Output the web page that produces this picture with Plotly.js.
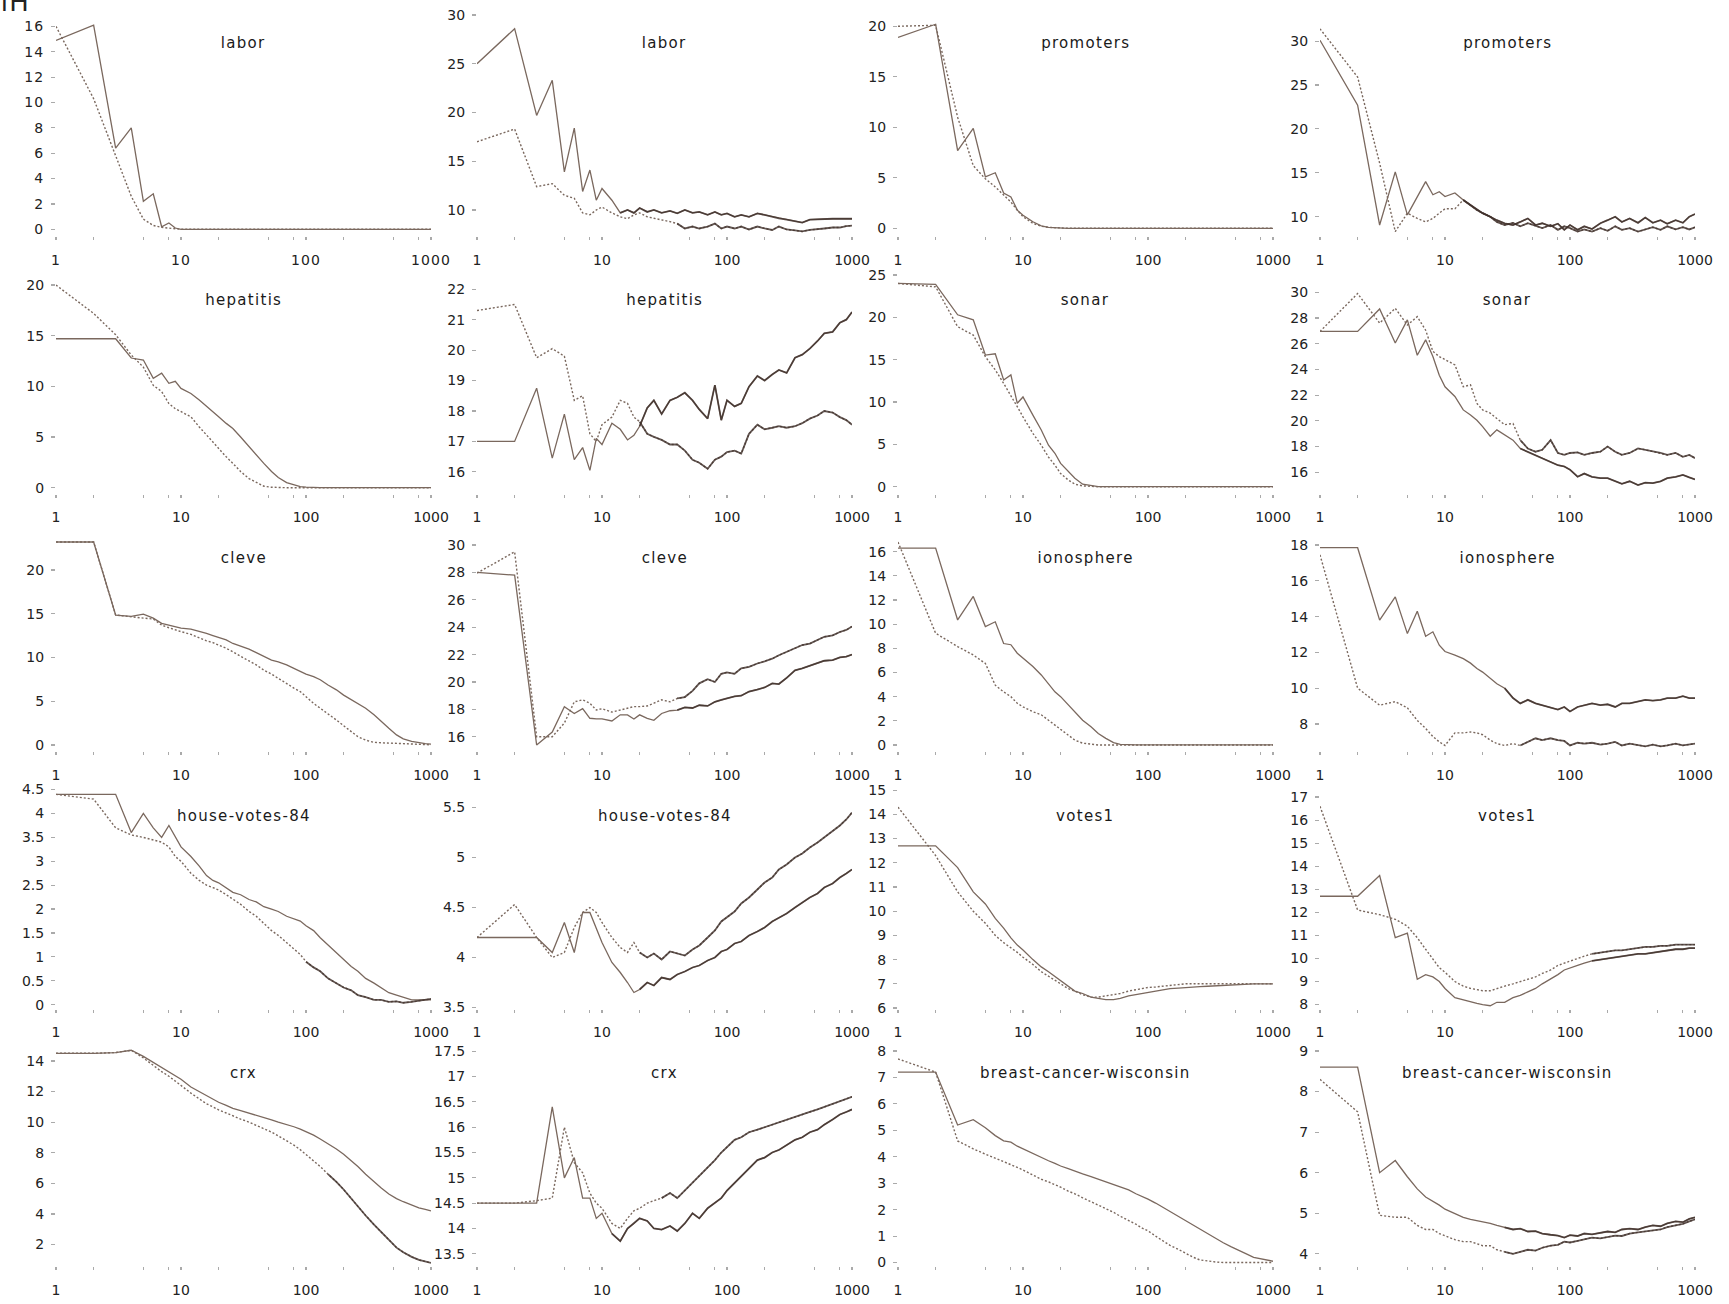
<!DOCTYPE html>
<html><head><meta charset="utf-8">
<script src="https://cdn.plot.ly/plotly-3.0.1.min.js"></script>
<style>
html,body{margin:0;padding:0;background:#fff;overflow:hidden}
#chart .xtick text, #chart .ytick text{letter-spacing:1.1px}
#chart .annotation-text{letter-spacing:1.3px}
</style>
</head><body><div id="chart" style="width:1729px;height:1304px"></div>
<script>
// ---------------- DATA ----------------
const X = [1,2,3,4,5,6,7,8,9,10, 12,14,16,18,20,23,26,30,35,40, 46,53,60,70,80,90,100,115,130,150, 175,200,230,260,300,350,400,460,530,600, 700,800,900,1000];

const titles = ['labor','labor','promoters','promoters','hepatitis','hepatitis','sonar','sonar','cleve','cleve','ionosphere','ionosphere','house-votes-84','house-votes-84','votes1','votes1','crx','crx','breast-cancer-wisconsin','breast-cancer-wisconsin'];

const xTickVals = [1,2,5,8,10,20,50,80,100,200,500,800,1000];
const xTickText = ['1','','','','10','','','','100','','','','1000'];

const yTicks = [
  [0,2,4,6,8,10,12,14,16],[10,15,20,25,30],[0,5,10,15,20],[10,15,20,25,30],
  [0,5,10,15,20],[16,17,18,19,20,21,22],[0,5,10,15,20,25],[16,18,20,22,24,26,28,30],
  [0,5,10,15,20],[16,18,20,22,24,26,28,30],[0,2,4,6,8,10,12,14,16],[8,10,12,14,16,18],
  [0,0.5,1,1.5,2,2.5,3,3.5,4,4.5],[3.5,4,4.5,5,5.5],[6,7,8,9,10,11,12,13,14,15],[8,9,10,11,12,13,14,15,16,17],
  [2,4,6,8,10,12,14],[13.5,14,14.5,15,15.5,16,16.5,17,17.5],[0,1,2,3,4,5,6,7,8],[4,5,6,7,8,9]
];

const laborLSolid = [14.9,16.1,6.4,8.0,2.2,2.8,0.2,0.5,0.1,0, 0,0,0,0,0,0,0,0,0,0, 0,0,0,0,0,0,0,0,0,0, 0,0,0,0,0,0,0,0,0,0, 0,0,0,0];
const laborLDotted = [16.0,10.3,5.8,2.6,0.8,0.3,0.15,0.1,0.05,0, 0,0,0,0,0,0,0,0,0,0, 0,0,0,0,0,0,0,0,0,0, 0,0,0,0,0,0,0,0,0,0, 0,0,0,0];
const laborRSolid = [25.0,28.6,19.7,23.3,13.9,18.4,11.9,14.1,11.0,12.2, 11.0,9.7,10.0,9.7,10.2,9.8,10.0,9.7,9.9,9.65, 10.0,9.7,9.8,9.5,9.8,9.5,9.65,9.3,9.5,9.3, 9.65,9.5,9.3,9.15,9.0,8.8,8.7,9.0,9.05,9.1, 9.1,9.1,9.1,9.1];
const laborRDotted = [17.0,18.3,12.4,12.7,11.5,11.2,9.7,9.5,10.0,10.3, 9.7,9.3,9.1,9.5,9.7,9.3,9.15,9.0,8.8,8.6, 8.1,8.3,8.1,8.3,8.6,8.1,8.3,8.1,8.3,8.0, 8.3,8.1,7.95,8.3,8.0,7.9,7.8,7.95,8.0,8.1, 8.2,8.2,8.35,8.4];
const promLSolid = [18.9,20.2,7.7,9.9,5.1,5.5,3.5,3.1,1.8,1.3, 0.65,0.25,0.1,0.05,0,0,0,0,0,0, 0,0,0,0,0,0,0,0,0,0, 0,0,0,0,0,0,0,0,0,0, 0,0,0,0];
const promLDotted = [20.0,20.1,11.0,6.2,4.9,4.1,3.3,2.6,1.8,1.15, 0.5,0.2,0.1,0.05,0,0,0,0,0,0, 0,0,0,0,0,0,0,0,0,0, 0,0,0,0,0,0,0,0,0,0, 0,0,0,0];
const promRSolid = [30.1,22.7,9.05,15.1,10.2,12.3,14.0,12.5,12.85,12.3, 12.7,11.9,11.3,10.8,10.4,10.0,9.6,9.25,9.05,9.4, 9.8,9.05,9.25,8.9,9.2,8.5,9.05,8.5,8.9,8.6, 9.25,9.6,10.0,9.4,9.8,9.3,9.9,9.3,9.6,9.2, 9.6,9.3,10.0,10.3];
const promRDotted = [31.4,25.9,16.1,8.3,10.4,9.8,9.4,9.8,10.4,10.9, 10.9,11.9,11.3,10.75,10.4,10.0,9.4,9.05,9.3,8.9, 9.25,8.95,8.7,9.05,8.5,8.9,8.7,8.3,8.55,8.3, 8.7,8.4,8.9,8.5,8.7,8.3,8.55,8.8,8.5,8.9, 8.55,8.8,8.55,8.8];
const hepLSolid = [14.7,14.7,14.7,12.8,12.6,10.8,11.3,10.3,10.5,9.8, 9.3,8.65,8.0,7.5,7.0,6.35,5.85,5.0,4.05,3.2, 2.4,1.6,1.0,0.5,0.25,0.1,0.05,0,0,0, 0,0,0,0,0,0,0,0,0,0, 0,0,0,0];
const hepLDotted = [20.0,17.2,15.1,13.1,11.9,10.1,9.5,8.3,7.8,7.5, 7.0,6.0,5.2,4.5,3.9,3.05,2.4,1.6,0.9,0.5, 0.15,0.05,0,0,0,0,0,0,0,0, 0,0,0,0,0,0,0,0,0,0, 0,0,0,0];
const hepRSolid = [17.0,17.0,18.75,16.45,17.9,16.4,16.8,16.05,17.1,16.9, 17.6,17.4,17.05,17.2,17.5,18.1,18.35,17.9,18.35,18.45, 18.6,18.35,18.05,17.75,18.85,17.7,18.35,18.15,18.25,18.8, 19.15,19.0,19.2,19.35,19.25,19.75,19.85,20.05,20.3,20.55, 20.6,20.9,21.0,21.25];
const hepRDotted = [21.3,21.5,19.75,20.05,19.8,18.35,18.5,17.25,17.0,17.55, 17.8,18.35,18.25,17.8,17.65,17.25,17.15,17.05,16.9,16.9, 16.7,16.4,16.3,16.1,16.4,16.5,16.65,16.7,16.6,17.25, 17.55,17.4,17.45,17.5,17.45,17.5,17.6,17.75,17.85,18.0, 17.95,17.8,17.7,17.55];
const sonarLSolid = [24.0,23.9,20.3,19.7,15.55,15.7,12.6,13.2,9.85,10.6, 8.45,6.7,4.9,3.95,2.75,1.8,1.0,0.3,0.1,0, 0,0,0,0,0,0,0,0,0,0, 0,0,0,0,0,0,0,0,0,0, 0,0,0,0];
const sonarLDotted = [24.0,23.6,18.9,17.9,15.35,13.8,12.2,10.8,9.45,8.25, 6.3,4.9,3.5,2.55,1.55,0.8,0.3,0.1,0,0, 0,0,0,0,0,0,0,0,0,0, 0,0,0,0,0,0,0,0,0,0, 0,0,0,0];
const sonarRSolid = [26.95,26.95,28.7,26.05,27.85,25.1,26.3,25.0,23.55,22.65, 21.9,20.85,20.45,20.05,19.55,18.8,19.3,18.9,18.5,17.85, 17.6,17.35,17.1,16.85,16.55,16.45,16.2,15.65,15.9,15.65, 15.55,15.55,15.3,15.1,15.3,15.0,15.2,15.15,15.3,15.55, 15.65,15.8,15.6,15.45];
const sonarRDotted = [26.95,29.9,27.6,28.75,27.45,28.1,27.05,25.4,25.0,24.75, 24.35,22.65,22.8,21.35,20.85,20.6,20.2,19.7,19.8,18.5, 17.85,17.6,17.75,18.5,17.5,17.35,17.5,17.55,17.35,17.5, 17.6,18.0,17.6,17.35,17.5,17.85,17.75,17.6,17.5,17.35, 17.5,17.2,17.35,17.1];
const cleveLSolid = [23.2,23.2,14.85,14.7,14.95,14.5,13.9,13.7,13.5,13.35, 13.25,13.0,12.75,12.5,12.25,12.0,11.6,11.3,10.95,10.55, 10.1,9.7,9.5,9.15,8.75,8.4,8.1,7.8,7.45,6.85, 6.3,5.7,5.15,4.75,4.2,3.45,2.65,1.9,1.15,0.7, 0.4,0.25,0.15,0.1];
const cleveLDotted = [23.2,23.2,14.85,14.7,14.5,14.4,13.7,13.4,13.15,12.95, 12.65,12.25,11.9,11.7,11.45,11.05,10.65,10.1,9.6,9.15, 8.55,8.1,7.6,7.05,6.5,6.1,5.5,4.75,4.2,3.6, 2.85,2.2,1.5,0.95,0.55,0.3,0.25,0.2,0.15,0.12, 0.1,0.05,0.05,0.02];
const cleveRSolid = [28.0,27.8,15.4,16.35,18.2,17.7,18.05,17.35,17.3,17.3, 17.15,17.6,17.6,17.3,17.6,17.35,17.2,17.7,17.9,17.95, 18.15,18.1,18.3,18.25,18.55,18.7,18.8,18.95,19.0,19.3, 19.45,19.6,19.9,19.85,20.3,20.85,21.0,21.2,21.35,21.55, 21.6,21.8,21.85,22.0];
const cleveRDotted = [27.95,29.5,16.0,16.0,17.0,18.55,18.7,18.45,17.95,18.05, 17.8,17.95,18.05,18.2,18.2,18.25,18.45,18.7,18.55,18.8, 18.9,19.35,19.9,20.2,20.0,20.6,20.7,20.6,21.0,21.1, 21.35,21.5,21.7,21.95,22.2,22.45,22.7,22.8,23.05,23.3, 23.4,23.65,23.8,24.05];
const ionoLSolid = [16.3,16.3,10.35,12.3,9.8,10.2,8.4,8.3,7.6,7.2, 6.5,5.8,5.1,4.4,4.0,3.3,2.75,2.05,1.5,0.95, 0.55,0.2,0.05,0,0,0,0,0,0,0, 0,0,0,0,0,0,0,0,0,0, 0,0,0,0];
const ionoLDotted = [16.8,9.25,8.15,7.45,6.75,4.95,4.4,4.0,3.45,3.15, 2.75,2.5,2.05,1.65,1.25,0.75,0.4,0.15,0.05,0, 0,0,0,0,0,0,0,0,0,0, 0,0,0,0,0,0,0,0,0,0, 0,0,0,0];
const ionoRSolid = [17.85,17.85,13.8,15.1,13.05,14.3,12.9,13.15,12.4,12.05, 11.85,11.65,11.4,11.1,10.9,10.55,10.25,10.0,9.45,9.15, 9.35,9.15,9.05,8.95,8.8,8.95,8.7,8.95,9.05,9.15, 9.05,9.1,8.95,9.15,9.15,9.25,9.35,9.3,9.35,9.45, 9.45,9.55,9.45,9.45];
const ionoRDotted = [17.45,10.0,9.05,9.25,8.9,8.2,7.75,7.3,7.0,6.8, 7.5,7.5,7.55,7.5,7.4,7.1,6.9,6.8,6.9,6.8, 7.0,7.2,7.1,7.2,7.1,7.05,6.8,6.95,6.9,6.95, 6.85,6.9,7.0,6.8,6.9,6.8,6.75,6.85,6.75,6.8, 6.9,6.8,6.85,6.9];
const hvLSolid = [4.4,4.4,4.4,3.6,4.0,3.7,3.5,3.75,3.5,3.3, 3.1,2.9,2.7,2.6,2.55,2.45,2.35,2.3,2.2,2.15, 2.05,2.0,1.95,1.85,1.8,1.75,1.65,1.55,1.4,1.25, 1.1,0.95,0.8,0.7,0.55,0.45,0.35,0.25,0.2,0.15, 0.1,0.1,0.1,0.1];
const hvLDotted = [4.4,4.3,3.7,3.55,3.5,3.45,3.4,3.3,3.1,3.0, 2.75,2.6,2.5,2.45,2.4,2.3,2.2,2.1,1.95,1.85, 1.7,1.55,1.45,1.3,1.15,1.05,0.9,0.78,0.7,0.55, 0.45,0.36,0.3,0.2,0.16,0.1,0.1,0.06,0.07,0.04, 0.06,0.08,0.11,0.12];
const hvRSolid = [4.2,4.2,4.2,4.05,4.35,4.05,4.45,4.45,4.3,4.15, 3.95,3.85,3.75,3.65,3.68,3.75,3.72,3.8,3.78,3.83, 3.86,3.9,3.92,3.97,4.0,4.06,4.08,4.14,4.16,4.22, 4.26,4.3,4.36,4.4,4.44,4.5,4.55,4.6,4.64,4.7, 4.74,4.8,4.84,4.88];
const hvRDotted = [4.2,4.53,4.2,4.0,4.05,4.3,4.45,4.5,4.45,4.35, 4.2,4.1,4.05,4.15,4.05,4.0,4.04,3.98,4.06,4.04, 4.02,4.08,4.12,4.2,4.27,4.36,4.4,4.46,4.54,4.6, 4.68,4.75,4.8,4.88,4.93,5.0,5.04,5.1,5.15,5.2, 5.27,5.32,5.38,5.45];
const votesLSolid = [12.7,12.7,11.8,10.8,10.3,9.7,9.3,8.9,8.6,8.4, 8.0,7.7,7.5,7.3,7.15,6.9,6.7,6.6,6.45,6.4, 6.35,6.35,6.4,6.5,6.55,6.6,6.65,6.7,6.75,6.8, 6.82,6.85,6.87,6.88,6.9,6.92,6.95,6.96,6.98,7.0, 7.0,7.0,7.0,7.0];
const votesLDotted = [14.3,12.3,10.8,10.0,9.5,9.0,8.7,8.5,8.3,8.1, 7.8,7.5,7.3,7.15,7.0,6.8,6.7,6.55,6.45,6.45, 6.5,6.55,6.6,6.7,6.75,6.8,6.85,6.87,6.9,6.95, 6.97,7.0,7.0,7.0,7.0,7.0,7.0,7.0,7.0,7.0, 7.0,7.0,7.0,7.0];
const votesRSolid = [12.7,12.7,13.6,10.9,11.1,9.1,9.3,9.2,9.0,8.7, 8.3,8.2,8.1,8.05,8.0,7.95,8.1,8.1,8.3,8.4, 8.55,8.7,8.9,9.1,9.3,9.5,9.6,9.7,9.8,9.9, 9.95,10.0,10.05,10.1,10.15,10.2,10.2,10.25,10.3,10.35, 10.4,10.4,10.45,10.45];
const votesRDotted = [16.6,12.1,11.9,11.7,11.4,10.9,10.4,10.0,9.6,9.4, 9.0,8.8,8.7,8.65,8.6,8.6,8.7,8.8,8.9,9.0, 9.1,9.2,9.35,9.5,9.7,9.8,9.9,10.0,10.1,10.2, 10.25,10.3,10.35,10.35,10.4,10.45,10.5,10.5,10.55,10.55, 10.6,10.6,10.6,10.6];
const crxLSolid = [14.5,14.5,14.55,14.7,14.3,13.9,13.6,13.3,13.0,12.8, 12.3,12.0,11.7,11.5,11.3,11.1,10.9,10.75,10.6,10.45, 10.3,10.15,10.0,9.85,9.7,9.55,9.4,9.15,8.9,8.6, 8.25,7.9,7.5,7.1,6.6,6.1,5.7,5.3,5.0,4.8, 4.6,4.4,4.3,4.2];
const crxLDotted = [14.5,14.5,14.55,14.7,14.2,13.7,13.3,13.0,12.7,12.4, 11.9,11.5,11.2,11.0,10.8,10.6,10.4,10.2,10.0,9.8, 9.6,9.35,9.1,8.8,8.5,8.2,7.9,7.5,7.1,6.6, 6.1,5.6,5.0,4.5,3.9,3.3,2.8,2.3,1.8,1.5, 1.2,1.0,0.9,0.8];
const crxRSolid = [14.5,14.5,14.5,16.4,15.0,15.4,14.6,14.6,14.2,14.3, 13.9,13.75,14.0,14.1,14.2,14.15,14.0,13.98,14.05,13.95, 14.1,14.3,14.2,14.4,14.5,14.6,14.75,14.9,15.05,15.2, 15.35,15.4,15.5,15.55,15.65,15.75,15.8,15.9,15.95,16.05, 16.15,16.25,16.3,16.35];
const crxRDotted = [14.5,14.5,14.55,14.6,16.0,15.3,15.1,14.7,14.5,14.4, 14.1,14.0,14.2,14.35,14.4,14.5,14.55,14.6,14.7,14.6, 14.75,14.9,15.05,15.2,15.35,15.5,15.6,15.75,15.8,15.9, 15.95,16.0,16.05,16.1,16.15,16.2,16.25,16.3,16.35,16.4, 16.45,16.5,16.55,16.6];
const bcwLSolid = [7.2,7.2,5.2,5.4,5.1,4.8,4.6,4.55,4.4,4.3, 4.1,3.95,3.85,3.75,3.65,3.55,3.45,3.35,3.25,3.15, 3.05,2.95,2.85,2.75,2.6,2.5,2.4,2.25,2.1,1.95, 1.75,1.6,1.4,1.25,1.1,0.9,0.75,0.6,0.45,0.35, 0.2,0.15,0.1,0.05];
const bcwLDotted = [7.7,7.2,4.6,4.3,4.1,3.95,3.8,3.7,3.6,3.5, 3.3,3.15,3.05,2.95,2.85,2.7,2.6,2.45,2.3,2.2, 2.05,1.9,1.75,1.6,1.45,1.3,1.2,1.0,0.85,0.65, 0.5,0.35,0.2,0.1,0.05,0.02,0,0,0,0, 0,0,0,0];
const bcwRSolid = [8.6,8.6,6.0,6.3,5.9,5.6,5.4,5.3,5.2,5.1, 5.0,4.9,4.85,4.82,4.8,4.75,4.7,4.65,4.6,4.62, 4.55,4.56,4.5,4.47,4.45,4.4,4.46,4.44,4.5,4.48, 4.52,4.55,4.53,4.6,4.62,4.6,4.66,4.7,4.68,4.75, 4.8,4.78,4.86,4.9];
const bcwRDotted = [8.3,7.5,4.95,4.9,4.9,4.7,4.6,4.6,4.5,4.45, 4.35,4.3,4.3,4.25,4.2,4.2,4.1,4.05,4.0,4.05, 4.1,4.08,4.15,4.2,4.22,4.3,4.28,4.32,4.36,4.4, 4.38,4.42,4.45,4.44,4.5,4.53,4.55,4.58,4.6,4.66, 4.7,4.74,4.8,4.85];

const solidSeries = [laborLSolid,laborRSolid,promLSolid,promRSolid,hepLSolid,hepRSolid,sonarLSolid,sonarRSolid,cleveLSolid,cleveRSolid,ionoLSolid,ionoRSolid,hvLSolid,hvRSolid,votesLSolid,votesRSolid,crxLSolid,crxRSolid,bcwLSolid,bcwRSolid];
const dottedSeries = [laborLDotted,laborRDotted,promLDotted,promRDotted,hepLDotted,hepRDotted,sonarLDotted,sonarRDotted,cleveLDotted,cleveRDotted,ionoLDotted,ionoRDotted,hvLDotted,hvRDotted,votesLDotted,votesRDotted,crxLDotted,crxRDotted,bcwLDotted,bcwRDotted];

// ---------------- LAYOUT / STYLE ----------------
const W = 1729, H = 1304;
const colX = [56, 477, 898, 1320], plotW = 375;
const rowB = [236, 493.5, 751, 1008.5, 1266], plotH = 228;
const yRanges = [
  [-0.53,17.45],[7.33,30.72],[-0.76,21.81],[7.80,33.77],
  [-0.57,21.93],[15.29,22.78],[-0.80,26.12],[14.35,32.08],
  [-0.69,25.37],[14.96,31.61],[-0.50,18.38],[6.49,19.23],
  [-0.08,4.69],[3.49,5.77],[5.98,15.4],[7.83,17.72],
  [0.6,15.5],[13.26,17.76],[-0.13,8.49],[3.70,9.32]
];
// where the dense, dark (noisy) rendering starts, per panel: [solid, dotted]
const denseFrom = [
  [null,null],[14,40],[null,null],[14,14],
  [null,null],[20,20],[null,null],[40,40],
  [null,null],[40,40],[null,null],[30,40],
  [null,100],[20,20],[null,null],[150,150],
  [null,150],[12,30],[null,null],[30,30]
];
const lineColor = '#7a685e';
const denseColor = '#3e302a';
const tickFont = {family:'DejaVu Sans, sans-serif', size:14, color:'#222'};

const traces = [];
const layout = {
  width: W, height: H, margin:{l:0,r:0,t:0,b:0},
  paper_bgcolor:'#fff', plot_bgcolor:'#fff', showlegend:false,
  annotations: []
};
function tail(arr, from) {
  const k = X.findIndex(v => v >= from);
  return {x: X.slice(k), y: arr.slice(k)};
}
for (let i = 0; i < 20; i++) {
  const r = Math.floor(i/4), c = i % 4;
  const s = i === 0 ? '' : String(i+1);
  layout['xaxis'+s] = {
    type:'log', range:[0,3], domain:[colX[c]/W, (colX[c]+plotW)/W], anchor:'y'+s,
    tickmode:'array', tickvals:xTickVals, ticktext:xTickText,
    ticks:'outside', ticklen:3, tickwidth:1.2, tickcolor:'#aaa',
    showgrid:false, zeroline:false, showline:false, tickfont:tickFont,
    ticklabelstandoff:8, fixedrange:true
  };
  layout['yaxis'+s] = {
    range:yRanges[i], domain:[1-rowB[r]/H, 1-(rowB[r]-plotH)/H], anchor:'x'+s,
    tickmode:'array', tickvals:yTicks[i],
    ticks:'outside', ticklen:4, tickwidth:1.2, tickcolor:'#aaa',
    showgrid:false, zeroline:false, showline:false, tickfont:tickFont,
    ticklabelstandoff:4, fixedrange:true
  };
  traces.push({x:X, y:solidSeries[i], xaxis:'x'+s, yaxis:'y'+s, mode:'lines',
    line:{color:lineColor, width:1.3}, hoverinfo:'skip'});
  traces.push({x:X, y:dottedSeries[i], xaxis:'x'+s, yaxis:'y'+s, mode:'lines',
    line:{color:lineColor, width:1.4, dash:'2px,2px'}, hoverinfo:'skip'});
  [[solidSeries[i], denseFrom[i][0]], [dottedSeries[i], denseFrom[i][1]]].forEach(([arr, from]) => {
    if (from === null) return;
    const t = tail(arr, from);
    traces.push({x:t.x, y:t.y, xaxis:'x'+s, yaxis:'y'+s, mode:'lines',
      line:{color:denseColor, width:1.8}, opacity:0.8, hoverinfo:'skip'});
  });
  layout.annotations.push({
    text:titles[i], xref:'paper', yref:'paper',
    x:(colX[c]+plotW/2)/W, y:1-(rowB[r]-193)/H,
    xanchor:'center', yanchor:'middle', showarrow:false,
    font:{family:'DejaVu Sans, sans-serif', size:15, color:'#1a1a1a'}
  });
}
layout.annotations.push({
  text:'iH', xref:'paper', yref:'paper', x:0, y:1-2/H, xanchor:'left', yanchor:'middle',
  showarrow:false, font:{family:'DejaVu Sans, sans-serif', size:26, color:'#222'}
});

Plotly.newPlot('chart', traces, layout, {staticPlot:true, displayModeBar:false});
</script></body></html>
